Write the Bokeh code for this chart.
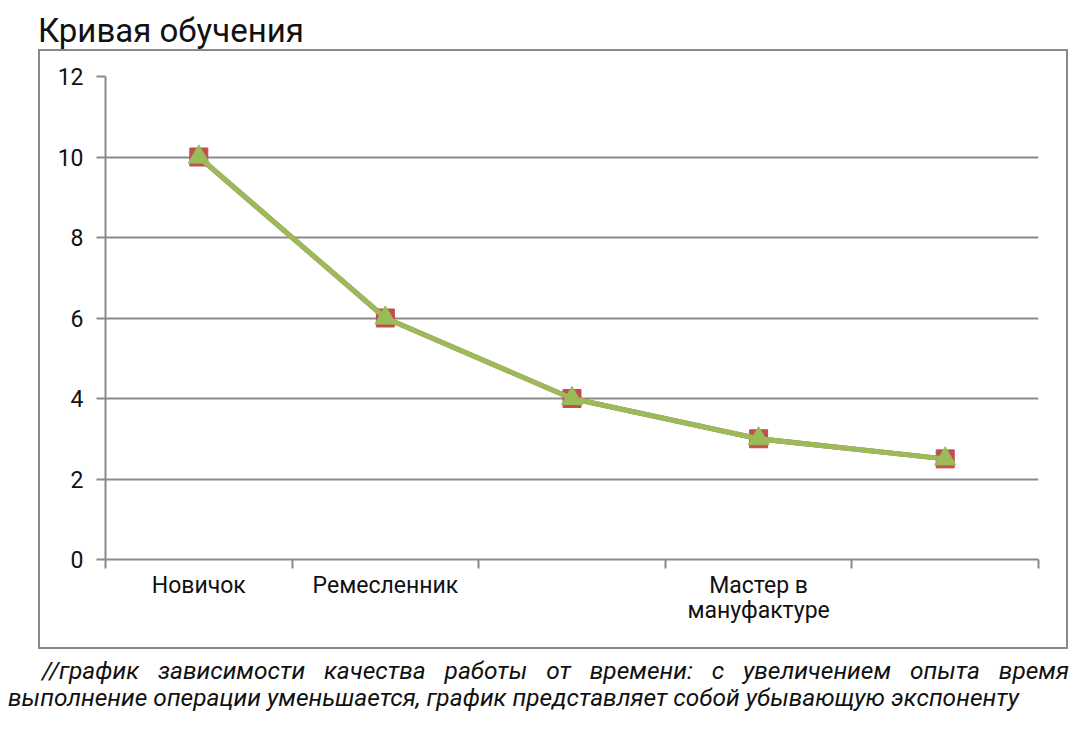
from bokeh.plotting import figure
from bokeh.models import Range1d, FixedTicker, Div
from bokeh.layouts import column
from bokeh.embed import file_html
from bokeh.resources import INLINE

# ---- data ----
categories = ["Новичок", "Ремесленник", "", "Мастер в\nмануфактуре", ""]
series_red = [10, 6, 4, 3, 2.5]
series_green = [10, 6, 4, 3, 2.5]
y_ticks = [0, 2, 4, 6, 8, 10, 12]
title_text = "Кривая обучения"
caption_line1 = "//график зависимости качества работы от времени: с увеличением опыта время"
caption_line2 = "выполнение операции уменьшается, график представляет собой убывающую экспоненту"

x_pos = [i + 0.5 for i in range(len(categories))]
boundaries = list(range(len(categories) + 1))

RED = "#C0504D"
GREEN = "#9BBB59"
GRAY = "#8A8A8A"

p = figure(width=1030, height=600,
           x_range=Range1d(0, len(categories)), y_range=Range1d(0, 12),
           output_backend="svg", toolbar_location=None,
           min_border_left=65, min_border_right=32,
           min_border_top=25, min_border_bottom=92,
           margin=(0, 0, 0, 38))
p.styles = {"border": f"2px solid {GRAY}", "box-sizing": "border-box"}
p.outline_line_color = None
p.background_fill_color = "white"
p.border_fill_color = "white"

# grid
p.xgrid.visible = False
p.ygrid.ticker = FixedTicker(ticks=y_ticks)
p.ygrid.grid_line_color = GRAY
p.ygrid.grid_line_width = 2

# y axis
ya = p.yaxis[0]
ya.ticker = FixedTicker(ticks=y_ticks, minor_ticks=[])
ya.axis_line_color = GRAY
ya.axis_line_width = 2
ya.major_tick_line_color = GRAY
ya.major_tick_line_width = 2
ya.major_tick_out = 9
ya.major_tick_in = 0
ya.minor_tick_line_color = None
ya.major_label_text_font = "Roboto"
ya.major_label_text_font_size = "23px"
ya.major_label_text_color = "#111111"
ya.major_label_standoff = 13

# x axis
xa = p.xaxis[0]
xa.ticker = FixedTicker(ticks=x_pos, minor_ticks=boundaries)
xa.major_label_overrides = {x: c for x, c in zip(x_pos, categories)}
xa.axis_line_color = GRAY
xa.axis_line_width = 2
xa.major_tick_line_color = None
xa.major_tick_out = 0
xa.major_tick_in = 0
xa.minor_tick_line_color = GRAY
xa.minor_tick_line_width = 2
xa.minor_tick_out = 9
xa.minor_tick_in = 0
xa.major_label_text_font = "Roboto"
xa.major_label_text_font_size = "23px"
xa.major_label_text_line_height = 0.95
xa.major_label_text_color = "#111111"
xa.major_label_standoff = 3

# series
p.line(x_pos, series_red, line_color=RED, line_width=5)
p.scatter(x_pos, series_red, marker="square", size=18, fill_color=RED, line_color=RED)
p.line(x_pos, series_green, line_color=GREEN, line_width=5)
p.scatter(x_pos, series_green, marker="triangle", size=21, fill_color=GREEN, line_color=GREEN)

title_div = Div(
    text=f'<div style="font-family:Roboto; font-size:33px; line-height:38px; color:#111; '
         f'padding-top:12px; padding-left:38px; white-space:nowrap;">{title_text}</div>',
    width=1080, height=49, margin=(0, 0, 0, 0))

caption_div = Div(
    text=('<div style="font-family:Roboto; font-style:italic; font-size:24.5px; line-height:27px; '
          'color:#111; padding-top:8px;">'
          f'<div style="margin-left:42px; width:1027px; text-align:justify; text-align-last:justify; white-space:nowrap;">{caption_line1}</div>'
          f'<div style="margin-left:8px; white-space:nowrap;">{caption_line2}</div>'
          '</div>'),
    width=1080, height=94, margin=(0, 0, 0, 0))

layout = column(title_div, p, caption_div, spacing=0)

open("out.html", "w").write(file_html(layout, INLINE))
